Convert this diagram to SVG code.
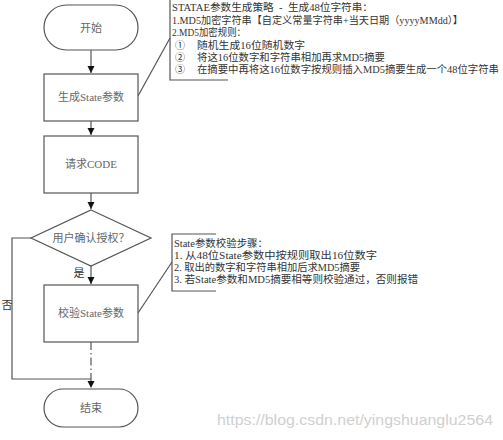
<svg xmlns="http://www.w3.org/2000/svg" width="503" height="440" viewBox="0 0 503 440">
<defs>
<marker id="arr" markerWidth="8" markerHeight="8" refX="7" refY="4" orient="auto" markerUnits="userSpaceOnUse">
<path d="M0,0.5 L7,4 L0,7.5 Z" fill="#111"/>
</marker>
<style>
.shape{fill:#fff;stroke:#555;stroke-width:1.2}
.line{fill:none;stroke:#555;stroke-width:1.2}
.node{font-family:"Liberation Serif","Noto Sans CJK SC",serif;font-size:11px;fill:#666;text-anchor:middle;dominant-baseline:central}
.note{font-family:"Liberation Serif","Noto Sans CJK SC",serif;font-size:10px;fill:#333;white-space:pre}
.lbl{font-family:"Liberation Serif","Noto Sans CJK SC",serif;font-size:11px;fill:#333;text-anchor:middle;dominant-baseline:central}
</style>
</defs>
<rect width="503" height="440" fill="#fff"/>
<g id="connectors">
<line class="line" x1="91" y1="50" x2="91" y2="73" marker-end="url(#arr)"/>
<line class="line" x1="91" y1="121" x2="91" y2="135" marker-end="url(#arr)"/>
<line class="line" x1="91" y1="193" x2="91" y2="209" marker-end="url(#arr)"/>
<line class="line" x1="91" y1="265" x2="91" y2="284" marker-end="url(#arr)"/>
<line class="line" x1="91" y1="342" x2="91" y2="388" stroke-dasharray="8,3,1.5,3" marker-end="url(#arr)"/>
<polyline class="line" points="31,238 12,238 12,379 91,379"/>
<line class="line" x1="138" y1="96" x2="170" y2="38"/>
<line class="line" x1="138" y1="313" x2="172" y2="262"/>
<text class="lbl" x="79" y="273">是</text>
<text class="lbl" x="7" y="305">否</text>
</g>
<g id="start">
<rect class="shape" x="44" y="5" width="94" height="45" rx="22.5"/>
<text class="node" x="91" y="27.5">开始</text>
</g>
<g id="gen">
<rect class="shape" x="44" y="74" width="94" height="47"/>
<text class="node" x="91" y="97">生成State参数</text>
</g>
<g id="req">
<rect class="shape" x="44" y="136" width="94" height="57"/>
<text class="node" x="91" y="164">请求CODE</text>
</g>
<g id="decision">
<polygon class="shape" points="91,210 151,238 91,266 31,238"/>
<text class="node" x="91" y="238">用户确认授权？</text>
</g>
<g id="verify">
<rect class="shape" x="44" y="285" width="94" height="57"/>
<text class="node" x="91" y="313">校验State参数</text>
</g>
<g id="end">
<rect class="shape" x="44" y="389" width="94" height="38" rx="19"/>
<text class="node" x="91" y="408">结束</text>
</g>
<g id="note1">
<path class="line" d="M170,0 V80 H228"/>
<text class="note" x="172" y="10.5" textLength="201" lengthAdjust="spacingAndGlyphs">STATAE参数生成策略  -  生成48位字符串：</text>
<text class="note" x="172" y="23.5" textLength="291" lengthAdjust="spacingAndGlyphs">1.MD5加密字符串【自定义常量字符串+当天日期（yyyyMMdd）】</text>
<text class="note" x="172" y="36" textLength="74" lengthAdjust="spacingAndGlyphs">2.MD5加密规则：</text>
<text class="note" x="175" y="48.5">①</text>
<text class="note" x="197" y="48.5" textLength="108" lengthAdjust="spacingAndGlyphs">随机生成16位随机数字</text>
<text class="note" x="175" y="60.5">②</text>
<text class="note" x="197" y="60.5" textLength="188" lengthAdjust="spacingAndGlyphs">将这16位数字和字符串相加再求MD5摘要</text>
<text class="note" x="175" y="72.5">③</text>
<text class="note" x="197" y="72.5" textLength="302" lengthAdjust="spacingAndGlyphs">在摘要中再将这16位数字按规则插入MD5摘要生成一个48位字符串</text>
</g>
<g id="note2">
<path class="line" d="M216,234 H172 V291 H216"/>
<text class="note" x="174" y="246.5" textLength="94" lengthAdjust="spacingAndGlyphs">State参数校验步骤：</text>
<text class="note" x="174" y="258.5" textLength="203" lengthAdjust="spacingAndGlyphs">1. 从48位State参数中按规则取出16位数字</text>
<text class="note" x="174" y="270.5" textLength="186" lengthAdjust="spacingAndGlyphs">2. 取出的数字和字符串相加后求MD5摘要</text>
<text class="note" x="174" y="282.5" textLength="244" lengthAdjust="spacingAndGlyphs">3. 若State参数和MD5摘要相等则校验通过，否则报错</text>
</g>
<text x="217" y="425" font-family="Liberation Sans, Arial, sans-serif" font-size="14" fill="#d0d0d0" textLength="276" lengthAdjust="spacingAndGlyphs">https://blog.csdn.net/yingshuanglu2564</text>
</svg>
